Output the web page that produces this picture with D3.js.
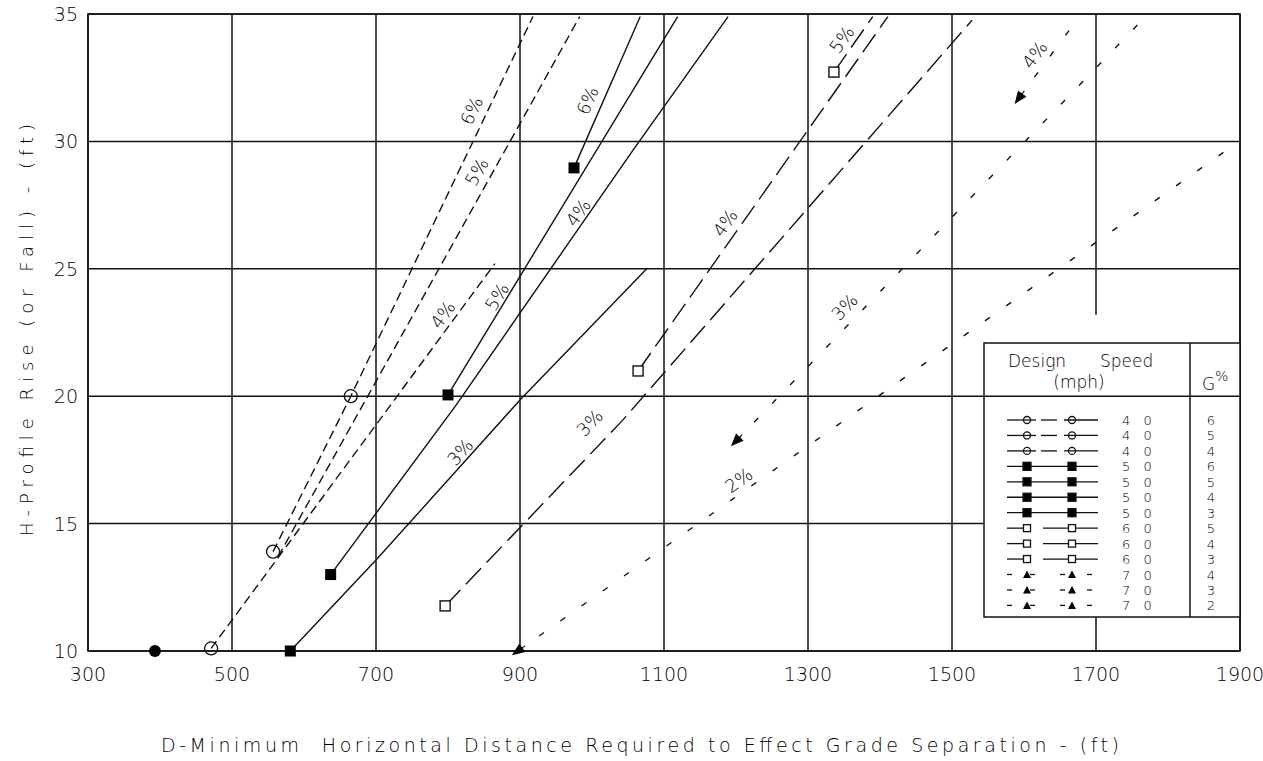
<!DOCTYPE html>
<html>
<head>
<meta charset="utf-8">
<title>grade separation chart</title>
<script src="https://cdn.jsdelivr.net/npm/d3@7"></script>
<style>
body { margin: 0; background: #fff; }
svg text { font-family: "DejaVu Sans", sans-serif; fill: #000; font-weight: 200; }
</style>
</head>
<body>
<svg id="chart" width="1263" height="761"></svg>
<script>
// ticks
var xTicks = [300, 500, 700, 900, 1100, 1300, 1500, 1700, 1900];
var yTicks = [10, 15, 20, 25, 30, 35];

// curves, [D (ft), H (ft)]
// 40 mph
var s40g6 = [[557, 13.9], [665, 20.0], [918, 34.9]];
var s40g5 = [[564, 13.7], [983, 34.9]];
var s40g4 = [[471, 10.1], [865, 25.2]];
// 50 mph
var s50g6 = [[975, 28.96], [1067, 34.9]];
var s50g5 = [[800, 20.05], [1119, 34.9]];
var s50g4 = [[637, 13.0], [810, 19.6], [1057, 29.66], [1189, 34.9]];
var s50g3 = [[581, 10], [700, 13.57], [900, 19.85], [1076, 25.0]];
// 60 mph
var s60g5 = [[1336, 32.72], [1390, 34.9]];
var s60g4 = [[1064, 20.99], [1411, 34.9]];
var s60g3 = [[796, 11.77], [1043, 19.07], [1528, 34.76]];
// 70 mph
var s70g4 = [[1593, 31.7], [1677, 34.9]];
var s70g3 = [[1200, 18.24], [1762, 34.7]];
var s70g2 = [[897, 10], [1896, 29.95]];

// point markers
var m40 = [[471, 10.1], [557, 13.9], [665, 20.0]];
var m40dot = [[393, 10]];
var m50 = [[581, 10], [637, 13.0], [800, 20.05], [975, 28.96]];
var m60 = [[796, 11.77], [1064, 20.99], [1336, 32.72]];
var m70 = [[897, 10, s70g2], [1200, 18.24, s70g3], [1593, 31.7, s70g4]];

// grade labels: text, curve, D, H
var gradeLabels = [
	["6%", s40g6, 833, 31.2], ["5%", s40g5, 840, 28.8], ["4%", s40g4, 793, 23.2],
	["6%", s50g6, 994, 31.6], ["5%", s50g5, 868, 23.9], ["4%", s50g4, 981, 27.2], ["3%", s50g3, 817, 17.8],
	["5%", s60g5, 1347, 34.0], ["4%", s60g4, 1185, 26.8], ["3%", s60g3, 997, 18.95],
	["4%", s70g4, 1615, 33.4], ["3%", s70g3, 1351, 23.5], ["2%", s70g2, 1204, 16.7]
];

// legend table
var legSpeed = [40, 40, 40, 50, 50, 50, 50, 60, 60, 60, 70, 70, 70];
var legGrade = [6, 5, 4, 6, 5, 4, 3, 5, 4, 3, 4, 3, 2];

var series = [
	{pts: s40g6, spd: 40}, {pts: s40g5, spd: 40}, {pts: s40g4, spd: 40},
	{pts: s50g6, spd: 50}, {pts: s50g5, spd: 50}, {pts: s50g4, spd: 50}, {pts: s50g3, spd: 50},
	{pts: s60g5, spd: 60}, {pts: s60g4, spd: 60}, {pts: s60g3, spd: 60},
	{pts: s70g4, spd: 70}, {pts: s70g3, spd: 70}, {pts: s70g2, spd: 70}
];
var dashes = {40: "9,5", 50: null, 60: "22,8", 70: "6,20"};

var svg = d3.select("#chart");
var L = 88, R = 1240, T = 14, B = 651;
var x = d3.scaleLinear().domain([300, 1900]).range([L, R]);
var y = d3.scaleLinear().domain([10, 35]).range([B, T]);

// grid
var grid = svg.append("g").attr("stroke", "#111").attr("stroke-width", 1.5);
xTicks.forEach(function(v) {
	if (v == 1700) {
		// this one is cut where the legend sits
		grid.append("line").attr("x1", x(v)).attr("x2", x(v)).attr("y1", y(35)).attr("y2", y(23.2));
		grid.append("line").attr("x1", x(v)).attr("x2", x(v)).attr("y1", y(11.35)).attr("y2", y(10));
	} else {
		grid.append("line").attr("x1", x(v)).attr("x2", x(v)).attr("y1", T).attr("y2", B);
	}
});
yTicks.forEach(function(v) {
	grid.append("line").attr("x1", L).attr("x2", R).attr("y1", y(v)).attr("y2", y(v));
});
grid.append("rect").attr("x", L).attr("y", T).attr("width", R - L).attr("height", B - T).attr("fill", "none");

// tick labels
svg.append("g").selectAll("text").data(xTicks).enter().append("text")
	.attr("x", function(d) { return x(d); }).attr("y", 681)
	.attr("text-anchor", "middle").attr("font-size", 19).text(function(d) { return d; });
svg.append("g").selectAll("text").data(yTicks).enter().append("text")
	.attr("x", 78).attr("y", function(d) { return y(d) + 7; })
	.attr("text-anchor", "end").attr("font-size", 19).text(function(d) { return d; });

// axis titles
svg.append("text").attr("x", 640).attr("y", 752).attr("text-anchor", "middle")
	.attr("font-size", 19).attr("textLength", 958).attr("lengthAdjust", "spacing")
	.style("white-space", "pre")
	.text("D-Minimum  Horizontal Distance Required to Effect Grade Separation - (ft)");
svg.append("text").attr("transform", "translate(33,330) rotate(-90)").attr("text-anchor", "middle")
	.attr("font-size", 18).attr("textLength", 412).attr("lengthAdjust", "spacing")
	.text("H-Profile Rise (or Fall) - (ft)");

// legend box
var lg = svg.append("g");
var lx0 = 984, lx1 = R, ly0 = 343, ly1 = 617, lcol = 1190;
lg.append("rect").attr("x", lx0).attr("y", ly0).attr("width", lx1 - lx0).attr("height", ly1 - ly0)
	.attr("fill", "#fff").attr("stroke", "#111").attr("stroke-width", 1.5);
lg.append("line").attr("x1", lx0).attr("x2", lx1).attr("y1", y(20)).attr("y2", y(20)).attr("stroke", "#111").attr("stroke-width", 1.5);
lg.append("line").attr("x1", lcol).attr("x2", lcol).attr("y1", ly0).attr("y2", ly1).attr("stroke", "#111").attr("stroke-width", 1.5);
lg.append("text").attr("x", 1008).attr("y", 367).attr("font-size", 17).text("Design");
lg.append("text").attr("x", 1100).attr("y", 367).attr("font-size", 17).text("Speed");
lg.append("text").attr("x", 1079).attr("y", 388).attr("font-size", 17).attr("text-anchor", "middle").text("(mph)");
lg.append("text").attr("x", 1202).attr("y", 390).attr("font-size", 17).text("G");
lg.append("text").attr("x", 1215).attr("y", 381).attr("font-size", 14).text("%");

// curves
var line = d3.line().x(function(d) { return x(d[0]); }).y(function(d) { return y(d[1]); });
svg.append("g").selectAll("path").data(series).enter().append("path")
	.attr("d", function(d) { return line(d.pts); })
	.attr("fill", "none").attr("stroke", "#111").attr("stroke-width", 1.4)
	.attr("stroke-dasharray", function(d) { return dashes[d.spd]; });

// markers
var mk = svg.append("g");
mk.selectAll(".c40").data(m40).enter().append("circle")
	.attr("cx", function(d) { return x(d[0]); }).attr("cy", function(d) { return y(d[1]); })
	.attr("r", 6.5).attr("fill", "none").attr("stroke", "#111").attr("stroke-width", 1.3);
mk.selectAll(".dot").data(m40dot).enter().append("circle")
	.attr("cx", function(d) { return x(d[0]); }).attr("cy", function(d) { return y(d[1]); })
	.attr("r", 6).attr("fill", "#000");
mk.selectAll(".s50").data(m50).enter().append("rect")
	.attr("x", function(d) { return x(d[0]) - 5.5; }).attr("y", function(d) { return y(d[1]) - 5.5; })
	.attr("width", 11).attr("height", 11).attr("fill", "#000");
mk.selectAll(".s60").data(m60).enter().append("rect")
	.attr("x", function(d) { return x(d[0]) - 5; }).attr("y", function(d) { return y(d[1]) - 5; })
	.attr("width", 10).attr("height", 10).attr("fill", "#fff").attr("stroke", "#111").attr("stroke-width", 1.4);
mk.selectAll(".t70").data(m70).enter().append("path")
	.attr("d", "M-6,0 L5,-4.5 L5,4.5 Z M5,0 L9,0")
	.attr("fill", "#000").attr("stroke", "#000").attr("stroke-width", 1)
	.attr("transform", function(d) {
		var p = d[2];
		var a = Math.atan2(y(p[1][1]) - y(p[0][1]), x(p[1][0]) - x(p[0][0])) * 180 / Math.PI;
		return "translate(" + x(d[0]) + "," + y(d[1]) + ") rotate(" + a + ")";
	});

// grade labels along the curves
function angleAt(pts, h) {
	var i = 0;
	while (i < pts.length - 2 && h > pts[i + 1][1]) i++;
	var a = pts[i], b = pts[i + 1];
	return Math.atan2(y(b[1]) - y(a[1]), x(b[0]) - x(a[0])) * 180 / Math.PI;
}
svg.append("g").selectAll("text").data(gradeLabels).enter().append("text")
	.attr("transform", function(d) {
		return "translate(" + x(d[2]) + "," + y(d[3]) + ") rotate(" + angleAt(d[1], d[3]) + ")";
	})
	.attr("text-anchor", "middle").attr("dy", "0.35em").attr("font-size", 18)
	.text(function(d) { return d[0]; });

// legend rows
var ry = d3.scalePoint().domain(d3.range(legSpeed.length)).range([420, 605.4]);
var lsym = lg.append("g").attr("stroke", "#111").attr("stroke-width", 1.3);
function seg(g, a, b, yy) {
	g.append("line").attr("x1", a).attr("x2", b).attr("y1", yy).attr("y2", yy);
}
legSpeed.forEach(function(s, i) {
	var yy = ry(i);
	if (s == 40) {
		seg(lsym, 1007, 1036, yy); seg(lsym, 1041, 1057, yy); seg(lsym, 1064, 1098, yy);
		[1027, 1072].forEach(function(cx) {
			lsym.append("circle").attr("cx", cx).attr("cy", yy).attr("r", 3.5).attr("fill", "none");
		});
	} else if (s == 50) {
		seg(lsym, 1007, 1098, yy);
		[1027, 1072].forEach(function(cx) {
			lsym.append("rect").attr("x", cx - 4).attr("y", yy - 4).attr("width", 8).attr("height", 8).attr("fill", "#000");
		});
	} else if (s == 60) {
		seg(lsym, 1007, 1027, yy); seg(lsym, 1043, 1098, yy);
		[1027, 1072].forEach(function(cx) {
			lsym.append("rect").attr("x", cx - 3.5).attr("y", yy - 3.5).attr("width", 7).attr("height", 7).attr("fill", "#fff");
		});
	} else {
		seg(lsym, 1007, 1012, yy); seg(lsym, 1030, 1035, yy); seg(lsym, 1060, 1065, yy); seg(lsym, 1087, 1092, yy);
		[1027, 1072].forEach(function(cx) {
			lsym.append("path").attr("d", "M" + (cx - 4) + "," + (yy + 3.5) + "L" + cx + "," + (yy - 4) + "L" + (cx + 4) + "," + (yy + 3.5) + "Z")
				.attr("fill", "#000").attr("stroke", "none");
		});
	}
	lg.append("text").attr("x", 1122).attr("y", yy + 5).attr("font-size", 13)
		.style("white-space", "pre").attr("letter-spacing", 4.5)
		.text(String(s).split("").join(" "));
	lg.append("text").attr("x", 1211).attr("y", yy + 5).attr("font-size", 13)
		.attr("text-anchor", "middle").text(legGrade[i]);
});
</script>
</body>
</html>
